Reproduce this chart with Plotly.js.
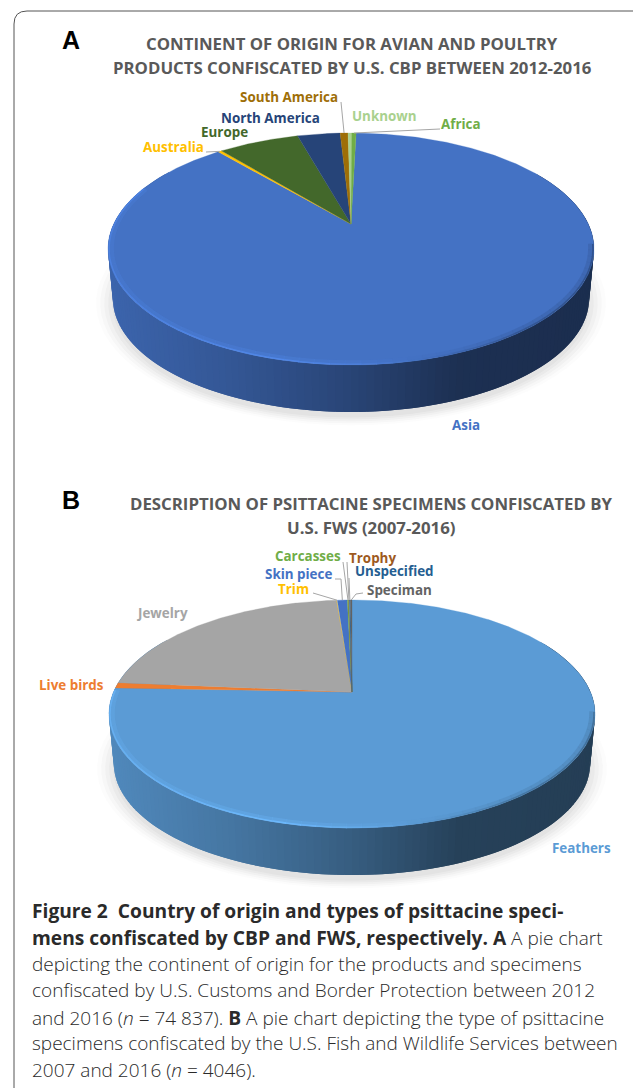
<!DOCTYPE html>
<html><head><meta charset="utf-8">
<script src="https://cdn.plot.ly/plotly-3.0.1.min.js"></script>
<style>html,body{margin:0;padding:0;background:#fff}#c{width:633px;height:1088px}</style>
</head><body><div id="c"></div>
<script>
// ---------- data (percent of confiscations, clockwise) ----------
const originLabels = ["Asia","Australia","Europe","North America","South America","Unknown","Africa"];
const originValues = [88.3,0.3,6.6,3.5,0.64,0.3,0.36];
const originColors = ["#4472C4","#FFC000","#43682B","#264478","#9E6E07","#A9D18E","#70AD47"];
const specimenLabels = ["Feathers","Live birds","Jewelry","Trim","Skin piece","Carcasses","Trophy","Unspecified","Speciman"];
const specimenValues = [75.6,0.78,22.4,0.05,0.8,0.1,0.05,0.1,0.12];
const specimenColors = ["#5B9BD5","#ED7D31","#A5A5A5","#FFC000","#4472C4","#70AD47","#9E5A1E","#255E91","#636363"];

const titleA = ["CONTINENT OF ORIGIN FOR AVIAN AND POULTRY","PRODUCTS CONFISCATED BY U.S. CBP BETWEEN 2012-2016"];
const titleB = ["DESCRIPTION OF PSITTACINE SPECIMENS CONFISCATED BY","U.S. FWS (2007-2016)"];
const B1 = '<span style="font-size:19.2px"><b>', B2 = '</b></span>';
const captionLines = [
 B1+"Figure 2  Country of origin and types of psittacine speci-"+B2,
 B1+"mens confiscated by CBP and FWS, respectively. A"+B2+" A pie chart",
 "depicting the continent of origin for the products and specimens",
 "confiscated by U.S. Customs and Border Protection between 2012",
 "and 2016 (<i>n</i> = 74 837). "+B1+"B"+B2+" A pie chart depicting the type of psittacine",
 "specimens confiscated by the U.S. Fish and Wildlife Services between",
 "2007 and 2016 (<i>n</i> = 4046)."
];

// ---------- geometry of the two tilted discs (page pixels as axis units) ----------
const pieA = {labels:originLabels,values:originValues,colors:originColors,cx:351,apex:224,R:237.3,A:110.6,c:0.2155,rot:1.5,depth:49.3,bevelEnd:290,
  midY:249,
  labelPos:[[466,425],[173,147],[224,132],[270,118],[289,97],[384,116],[461,124]],
  leaders:[null,[[206,152]],null,null,[[341,102]],null,[[440,129]]]};
const pieB = {labels:specimenLabels,values:specimenValues,colors:specimenColors,cx:352,apex:692,R:238.5,A:109.8,c:0.193,rot:0,depth:49.3,bevelEnd:271,
  midY:714,
  labelPos:[[581,848],[71,685],[162,613],[293,589],[298,574],[308,556],[372,558],[394,571],[399,590]],
  leaders:[null,null,null,[[313,593]],[[335,579],[341,579]],[[343,562]],[[347,562]],[[349,578]],[[363,593],[356,594]]]};

const traces = [], annotations = [], shapes = [];
const rad = d => d*Math.PI/180;
function proj(p,deg,r=1){
  const u=r*Math.sin(rad(deg)), v=r*Math.cos(rad(deg)), w=1+p.c*v;
  return [p.cx+p.R*u/w, p.apex-p.A*v/w];
}
function lower(p,pt){ // same rim, on the bottom of the disc
  const s=0.98;
  return [p.cx+(pt[0]-p.cx)*s, p.midY+p.depth+(pt[1]-p.midY)*s];
}
function rgb(h){return [1,3,5].map(i=>parseInt(h.substr(i,2),16));}
function scale(h,f){return "rgb("+rgb(h).map(c=>Math.max(0,Math.min(255,Math.round(c*f)))).join(",")+")";}
function lerp(stops,t){
  for(let i=1;i<stops.length;i++){ if(t<=stops[i][0]){
    const a=stops[i-1],b=stops[i]; return a[1]+(b[1]-a[1])*(t-a[0])/(b[0]-a[0]); } }
  return stops[stops.length-1][1];
}
function poly(pts,fill,opts={}){
  traces.push({type:"scatter",mode:"lines",x:pts.map(q=>q[0]),y:pts.map(q=>q[1]),fill:"toself",fillcolor:fill,
    line:{color:opts.line||fill,width:opts.w===undefined?1:opts.w},hoverinfo:"skip",showlegend:false,name:opts.name||""});
}
function stroke(pts,color,w,op){
  traces.push({type:"scatter",mode:"lines",x:pts.map(q=>q[0]),y:pts.map(q=>q[1]),line:{color,width:w},opacity:op===undefined?1:op,hoverinfo:"skip",showlegend:false});
}
function drawPie(p){
  const total=p.values.reduce((a,b)=>a+b,0);
  const bounds=[]; let a=p.rot;
  p.values.forEach(v=>{bounds.push([a,a+v/total*360]); a+=v/total*360;});
  const base=p.colors[0];
  // soft shadow beneath
  const shade=[[16,"#fcfcfc"],[12,"#f7f7f7"],[8,"#f1f1f1"],[4,"#eaeaea"],[0,"#e3e3e3"]];
  shade.forEach(([grow,col])=>{
    const pts=[]; for(let d=0;d<=360;d+=4){const q=lower(p,proj(p,d));
      const gx=1+grow/238; pts.push([p.cx+(q[0]-p.cx)*gx, p.midY+p.depth+5+(q[1]-p.midY-p.depth)*gx]);}
    poly(pts,col);
  });
  // side wall: one band per small arc, shaded left to right
  const xl=p.cx-243,xr=p.cx+243, wall=[[0,0.88],[0.25,0.76],[0.5,0.6],[0.72,0.42],[1,0.4]];
  for(let d=60;d<300;d+=1.5){
    const q1=proj(p,d),q2=proj(p,d+3);
    const qm=proj(p,d+0.75);
    const f=lerp(wall,(qm[0]-xl)/(xr-xl));
    poly([q1,q2,lower(p,q2),lower(p,q1)],scale(base,f),{w:0});
  }
  // top face
  bounds.forEach(([s,e],i)=>{
    const pts=[[p.cx,p.apex]]; const n=Math.max(2,Math.ceil((e-s)/0.5));
    for(let k=0;k<=n;k++) pts.push(proj(p,s+(e-s)*k/n));
    pts.push([p.cx,p.apex]);
    poly(pts,p.colors[i],{w:0.3,name:p.labels[i]});
  });
  // soft bevel along the front rim
  const bevel=[[0,1.14],[0.35,1.2],[0.55,1.08],[0.68,0.94],[0.85,0.74],[1,0.7]];
  for(let d=100;d<p.bevelEnd;d+=3){
    const e=Math.min(d+3.2,p.bevelEnd);
    const m=proj(p,(d+e)/2);
    const f=lerp(bevel,(m[0]-xl)/(xr-xl));
    stroke([proj(p,d,0.985),proj(p,e,0.985)],scale(base,(1+f)/2),4,0.55);
    stroke([proj(p,d,0.996),proj(p,e,0.996)],scale(base,f),1.6,0.9);
  }
  // labels and leader lines
  p.labels.forEach((t,i)=>{
    const [x,y]=p.labelPos[i];
    annotations.push({x,y,xref:"x",yref:"y",text:t,showarrow:false,xanchor:"center",yanchor:"middle",
      font:{family:"Open Sans",size:13.4,weight:700,color:p.colors[i]}});
    if(p.leaders[i]){
      const mid=(bounds[i][0]+bounds[i][1])/2;
      stroke([...p.leaders[i],proj(p,mid)],"#a6a6a6",1);
    }
  });
}
drawPie(pieA); drawPie(pieB);

titleA.forEach((t,i)=>annotations.push({x:352,y:43+24*i,xref:"x",yref:"y",text:t,showarrow:false,
  font:{family:"Open Sans",size:16.8,weight:700,color:"#595959"}}));
titleB.forEach((t,i)=>annotations.push({x:371,y:503+24*i,xref:"x",yref:"y",text:t,showarrow:false,
  font:{family:"Open Sans",size:16.8,weight:700,color:"#595959"}}));
[["A",40],["B",500]].forEach(([t,y])=>annotations.push({x:71,y,xref:"x",yref:"y",text:"<b>"+t+"</b>",showarrow:false,
  font:{family:"Liberation Sans",size:25,color:"#000"}}));
const capY=[910,937,964,990,1017,1043,1070];
captionLines.forEach((t,i)=>annotations.push({x:30,y:capY[i],xref:"x",yref:"y",text:t,showarrow:false,xanchor:"left",yanchor:"middle",
  font:{family:"Open Sans",size:19,weight:300,color:"#2a2a2a"}}));

shapes.push({type:"path",xref:"x",yref:"y",path:"M14,1088 L14,24 Q14,11 27,11 L633,11",line:{color:"#555",width:1}});

Plotly.newPlot("c",traces,{
  width:633,height:1088,margin:{l:0,r:0,t:0,b:0},paper_bgcolor:"#fff",plot_bgcolor:"#fff",showlegend:false,
  xaxis:{range:[0,633],visible:false,fixedrange:true},
  yaxis:{range:[1088,0],visible:false,fixedrange:true},
  annotations,shapes,hovermode:false
},{displayModeBar:false,staticPlot:true});
</script></body></html>
